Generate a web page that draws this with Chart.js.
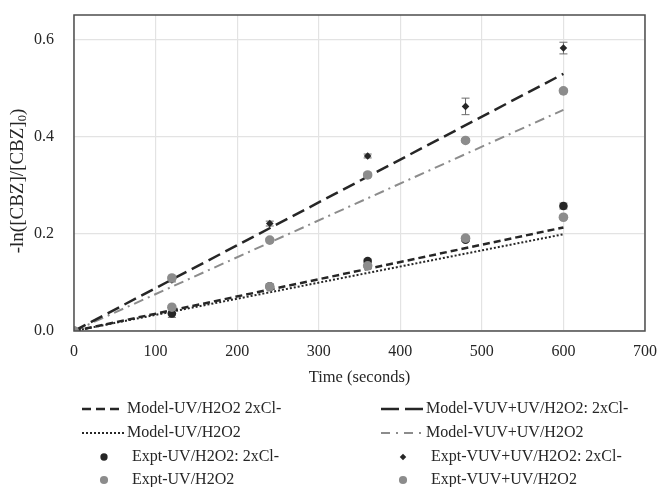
<!DOCTYPE html>
<html>
<head>
<meta charset="utf-8">
<script src="https://cdn.jsdelivr.net/npm/chart.js@4"></script>
<style>
  html, body { margin: 0; padding: 0; background: #fff; }
  .chart-container { width: 658px; height: 487px; }
</style>
</head>
<body>
<div class="chart-container">
  <canvas id="myChart" width="658" height="487"></canvas>
</div>
<script>
// time points (s) for the experiments
const exptTime = [0, 120, 240, 360, 480, 600];
const exptUVCl = [0, 0.036, 0.092, 0.144, 0.188, 0.257];
const exptUVClErr = [0, 0.008, 0.004, 0.004, 0.004, 0.006];
const exptUV = [0, 0.049, 0.091, 0.134, 0.191, 0.234];
const exptUVErr = [0, 0.003, 0.003, 0.003, 0.004, 0.004];
const exptVUVCl = [0, 0.105, 0.221, 0.360, 0.462, 0.582];
const exptVUVClErr = [0, 0.004, 0.005, 0.004, 0.017, 0.012];
const exptVUV = [0, 0.109, 0.187, 0.321, 0.392, 0.494];
const exptVUVErr = [0, 0.003, 0.004, 0.004, 0.004, 0.004];

// model lines (straight, start and end)
const modelTime = [0, 600];
const modelUVCl = [0, 0.213];
const modelUV = [0, 0.199];
const modelVUVCl = [0, 0.529];
const modelVUV = [0, 0.455];

const xTicks = [0, 100, 200, 300, 400, 500, 600, 700];
const yTicks = [0, 0.2, 0.4, 0.6];

const BLACK = '#262626';
const GRAY = '#8c8c8c';
const FONT = '"Liberation Serif", "Times New Roman", serif';

const pts = (xs, ys) => xs.map((x, i) => ({ x: x, y: ys[i] }));

const datasets = [
  { label: 'Model-UV/H2O2 2xCl-', data: pts(modelTime, modelUVCl), showLine: true, borderColor: BLACK, borderWidth: 2.5, borderDash: [7, 4], legendDash: [9, 5], pointRadius: 0, order: 5, col: 0, row: 0 },
  { label: 'Model-VUV+UV/H2O2: 2xCl-', data: pts(modelTime, modelVUVCl), showLine: true, borderColor: BLACK, borderWidth: 2.5, borderDash: [13, 6], legendDash: [18, 6], pointRadius: 0, order: 5, col: 1, row: 0 },
  { label: 'Model-UV/H2O2', data: pts(modelTime, modelUV), showLine: true, borderColor: BLACK, borderWidth: 2, borderDash: [2, 2], legendDash: [2, 2], pointRadius: 0, order: 5, col: 0, row: 1 },
  { label: 'Model-VUV+UV/H2O2', data: pts(modelTime, modelVUV), showLine: true, borderColor: GRAY, borderWidth: 2, borderDash: [10, 5, 2, 5], legendDash: [9, 6, 2, 6], pointRadius: 0, order: 5, col: 1, row: 1 },
  { label: 'Expt-UV/H2O2: 2xCl-', data: pts(exptTime, exptUVCl), err: exptUVClErr, showLine: false, backgroundColor: BLACK, borderColor: BLACK, pointStyle: 'circle', pointRadius: 4.3, borderWidth: 0, order: 3, col: 0, row: 2 },
  { label: 'Expt-VUV+UV/H2O2: 2xCl-', data: pts(exptTime, exptVUVCl), err: exptVUVClErr, showLine: false, backgroundColor: BLACK, borderColor: BLACK, pointStyle: 'rectRot', pointRadius: 3.8, borderWidth: 0, order: 3, col: 1, row: 2 },
  { label: 'Expt-UV/H2O2', data: pts(exptTime, exptUV), err: exptUVErr, showLine: false, backgroundColor: GRAY, borderColor: GRAY, pointStyle: 'circle', pointRadius: 4.8, borderWidth: 0, order: 1, col: 0, row: 3 },
  { label: 'Expt-VUV+UV/H2O2', data: pts(exptTime, exptVUV), err: exptVUVErr, showLine: false, backgroundColor: GRAY, borderColor: GRAY, pointStyle: 'circle', pointRadius: 4.8, borderWidth: 0, order: 1, col: 1, row: 3 },
];

// error bars, frame, axis titles and the two-column legend
const extras = {
  id: 'extras',
  beforeDatasetsDraw(chart) {
    const { ctx, scales: { x, y } } = chart;
    ctx.save();
    ctx.strokeStyle = '#6b6b6b';
    ctx.lineWidth = 1;
    chart.data.datasets.forEach(ds => {
      if (!ds.err) return;
      ds.data.forEach((p, i) => {
        const e = ds.err[i];
        if (!e) return;
        const px = x.getPixelForValue(p.x);
        const y1 = y.getPixelForValue(p.y + e);
        const y2 = y.getPixelForValue(p.y - e);
        ctx.beginPath();
        ctx.moveTo(px, y1); ctx.lineTo(px, y2);
        ctx.moveTo(px - 4, y1); ctx.lineTo(px + 4, y1);
        ctx.moveTo(px - 4, y2); ctx.lineTo(px + 4, y2);
        ctx.stroke();
      });
    });
    ctx.restore();
  },
  afterDraw(chart) {
    const { ctx, chartArea: a } = chart;
    ctx.save();
    // plot frame
    ctx.strokeStyle = '#4d4d4d';
    ctx.lineWidth = 1.5;
    ctx.strokeRect(a.left, a.top, a.right - a.left, a.bottom - a.top);

    ctx.fillStyle = BLACK;
    ctx.textBaseline = 'middle';
    // x title
    ctx.font = '16.5px ' + FONT;
    ctx.textAlign = 'center';
    ctx.fillText('Time (seconds)', (a.left + a.right) / 2, 378);

    // y title with subscript
    ctx.save();
    ctx.translate(18, 181);
    ctx.rotate(-Math.PI / 2);
    ctx.textAlign = 'left';
    const t1 = '-ln([CBZ]/[CBZ]', t3 = ')';
    ctx.font = '19px ' + FONT;
    const w1 = ctx.measureText(t1).width, w3 = ctx.measureText(t3).width;
    ctx.font = '12.5px ' + FONT;
    const w2 = ctx.measureText('0').width;
    const sx = -(w1 + w2 + w3) / 2;
    ctx.font = '19px ' + FONT;
    ctx.fillText(t1, sx, 0);
    ctx.font = '12.5px ' + FONT;
    ctx.fillText('0', sx + w1, 5);
    ctx.font = '19px ' + FONT;
    ctx.fillText(t3, sx + w1 + w2, 0);
    ctx.restore();

    // legend
    const colX = [82, 381];
    const rowY = [409, 433, 457, 480];
    chart.data.datasets.forEach(ds => {
      const lx = colX[ds.col], ly = rowY[ds.row];
      ctx.save();
      if (ds.showLine) {
        ctx.strokeStyle = ds.borderColor;
        ctx.lineWidth = ds.borderWidth;
        ctx.setLineDash(ds.legendDash);
        ctx.beginPath();
        ctx.moveTo(lx, ly); ctx.lineTo(lx + 42, ly);
        ctx.stroke();
      } else {
        ctx.fillStyle = ds.backgroundColor;
        const cx = lx + 22, r = ds.pointRadius * 0.85;
        ctx.beginPath();
        if (ds.pointStyle === 'rectRot') {
          ctx.moveTo(cx, ly - r); ctx.lineTo(cx + r, ly); ctx.lineTo(cx, ly + r); ctx.lineTo(cx - r, ly);
          ctx.closePath();
        } else {
          ctx.arc(cx, ly, r, 0, Math.PI * 2);
        }
        ctx.fill();
      }
      ctx.restore();
      ctx.fillStyle = BLACK;
      ctx.font = '16px ' + FONT;
      ctx.textAlign = 'left';
      ctx.fillText(ds.label, lx + (ds.showLine ? 45 : 50), ly);
    });
    ctx.restore();
  }
};

// drop the label overhang so the plot box lands where the reference has it
const noPad = s => { s.paddingTop = 0; s.paddingBottom = 0; s.paddingLeft = 0; s.paddingRight = 0; };

const ctx = document.getElementById('myChart').getContext('2d');
new Chart(ctx, {
  type: 'scatter',
  data: { datasets: datasets },
  plugins: [extras],
  options: {
    responsive: false,
    animation: false,
    layout: { padding: { top: 15, right: 13, left: 0, bottom: 0 } },
    plugins: {
      legend: { display: false },
      tooltip: { enabled: false },
    },
    scales: {
      x: {
        type: 'linear',
        min: 0, max: 700,
        afterBuildTicks: s => { s.ticks = xTicks.map(v => ({ value: v })); },
        afterFit: s => { s.height = 156; noPad(s); },
        grid: { color: '#e3e3e3', lineWidth: 1.2, drawTicks: false },
        border: { display: false },
        ticks: { color: BLACK, font: { family: FONT, size: 16 }, padding: 11 },
      },
      y: {
        type: 'linear',
        min: 0, max: 0.65,
        afterBuildTicks: s => { s.ticks = yTicks.map(v => ({ value: v })); },
        afterFit: s => { s.width = 74; noPad(s); },
        grid: { color: '#e3e3e3', lineWidth: 1.2, drawTicks: false },
        border: { display: false },
        ticks: { color: BLACK, font: { family: FONT, size: 16 }, padding: 20, callback: v => v.toFixed(1) },
      },
    },
  },
});
</script>
</body>
</html>
